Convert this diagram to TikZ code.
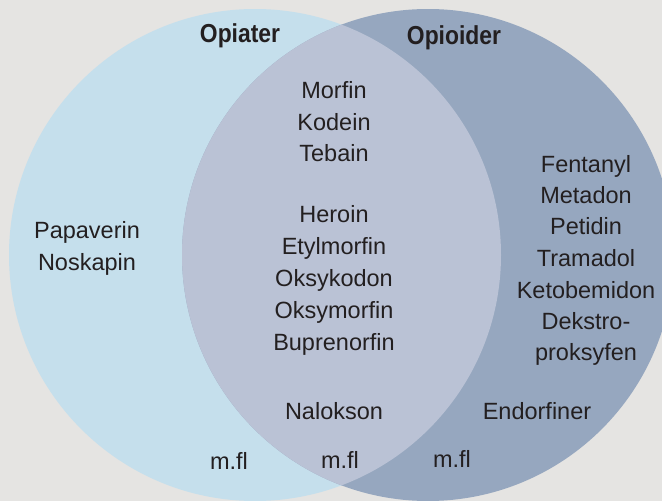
\documentclass[tikz,border=0pt]{standalone}
\usepackage{fontspec}
\setmainfont{Liberation Sans}
\definecolor{bgc}{HTML}{E5E4E2}
\definecolor{leftc}{HTML}{C5DFEC}
\definecolor{rightc}{HTML}{96A7BF}
\definecolor{midc}{HTML}{BAC2D5}
\definecolor{txt}{HTML}{231F20}
\begin{document}
\begin{tikzpicture}[x=1pt,y=-1pt,
  lbl/.style={text=txt, font=\fontsize{23.5}{23.5}\selectfont, inner sep=0pt, anchor=base},
  ttl/.style={lbl, font=\fontsize{26}{26}\selectfont\bfseries}]
\fill[bgc] (0,0) rectangle (662,501);
\useasboundingbox (0,0) rectangle (662,501);
\begin{scope}
  \clip (0,0) rectangle (662,501);
  \fill[leftc] (255,255) circle (246pt);
  \fill[rightc] (428,255) circle (246pt);
  \begin{scope}
    \clip (255,255) circle (246pt);
    \fill[midc] (428,255) circle (246pt);
  \end{scope}
\end{scope}
% titles
\node[ttl] (opiater) at (240,42) {\scalebox{0.88}[1]{Opiater}};
\node[ttl] (opioider) at (454,44) {\scalebox{0.88}[1]{Opioider}};
% overlap column
\foreach \t/\y [count=\i] in {Morfin/98,Kodein/130,Tebain/161,Heroin/222,Etylmorfin/254,Oksykodon/286,Oksymorfin/318,Buprenorfin/350,Nalokson/419}
  \node[lbl] (m\i) at (334,\y) {\t};
% left column
\node[lbl] (l1) at (87,238) {Papaverin};
\node[lbl] (l2) at (87,270) {Noskapin};
% right column
\foreach \t/\y [count=\i] in {Fentanyl/172,Metadon/203,Petidin/234,Tramadol/266,Ketobemidon/298,Dekstro-/329,proksyfen/360}
  \node[lbl] (r\i) at (586,\y) {\t};
\node[lbl] (endo) at (537,419) {Endorfiner};
% m.fl
\node[lbl] (mfl1) at (229,469) {m.fl};
\node[lbl] (mfl2) at (340,468) {m.fl};
\node[lbl] (mfl3) at (452,467) {m.fl};
\end{tikzpicture}
\end{document}
